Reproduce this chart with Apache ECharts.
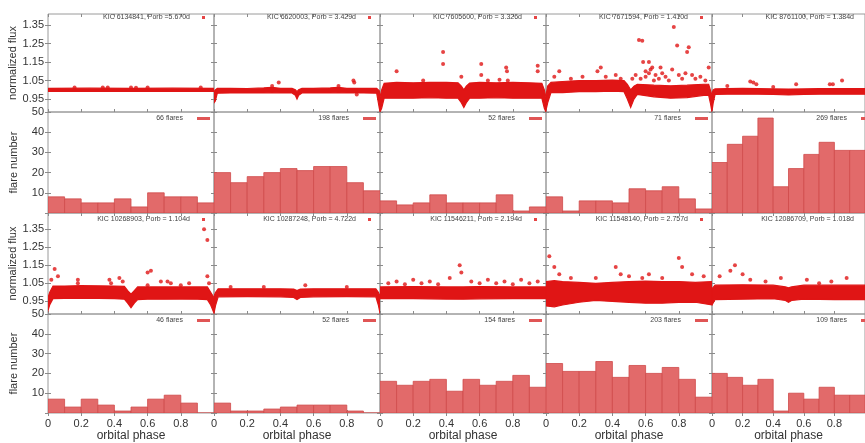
<!DOCTYPE html>
<html><head><meta charset="utf-8">
<script src="https://cdn.jsdelivr.net/npm/echarts@6/dist/echarts.min.js"></script>
<style>html,body{margin:0;padding:0;background:#fff}#c{width:865px;height:443px}</style>
</head><body><div id="c"></div>
<script>
// ---------------- data ----------------
const phaseTicks = [0, 0.2, 0.4, 0.6, 0.8];
const fluxTicks = [0.95, 1.05, 1.15, 1.25, 1.35];
const binStarts = [0, 0.1, 0.2, 0.3, 0.4, 0.5, 0.6, 0.7, 0.8, 0.9];
const binWidth = 0.1;

// top row light curves: [phase, lower edge, upper edge] of the dense band
const band6134841 = [[0,0.991,1.008],[0.25,0.992,1.009],[0.5,0.991,1.008],[0.75,0.992,1.009],[1,0.991,1.008]];
const flares6134841 = [[0.16,1.012],[0.33,1.013],[0.36,1.012],[0.5,1.013],[0.53,1.011],[0.6,1.012],[0.92,1.012]];
const band6620003 = [[0,0.93,0.99],[0.008,0.94,1.0],[0.02,0.982,1.008],[0.1,0.983,1.008],[0.2,0.983,1.007],[0.3,0.983,1.01],[0.35,0.985,1.013],[0.4,0.983,1.008],[0.47,0.983,1.008],[0.49,0.97,1.0],[0.5,0.95,0.99],[0.51,0.97,1.0],[0.53,0.983,1.008],[0.6,0.983,1.008],[0.7,0.983,1.01],[0.75,0.985,1.013],[0.8,0.983,1.008],[0.9,0.983,1.008],[0.98,0.982,1.008],[0.99,0.93,1.0],[1,0.88,0.99]];
const flares6620003 = [[0.39,1.04],[0.84,1.05],[0.845,1.04],[0.86,0.975],[0.35,1.02],[0.75,1.02]];
const band7605600 = [[0,0.88,0.96],[0.01,0.9,1.0],[0.025,0.955,1.035],[0.1,0.955,1.04],[0.2,0.955,1.038],[0.3,0.957,1.04],[0.4,0.955,1.04],[0.47,0.955,1.038],[0.49,0.93,1.02],[0.505,0.905,1.0],[0.52,0.93,1.02],[0.54,0.955,1.037],[0.6,0.955,1.04],[0.7,0.957,1.038],[0.8,0.955,1.04],[0.9,0.955,1.038],[0.975,0.955,1.035],[0.99,0.9,1.0],[1,0.88,0.96]];
const flares7605600 = [[0.10,1.10],[0.38,1.205],[0.38,1.14],[0.49,1.07],[0.61,1.14],[0.61,1.08],[0.65,1.05],[0.76,1.12],[0.765,1.10],[0.77,1.05],[0.95,1.13],[0.95,1.10],[0.26,1.05],[0.72,1.055]];
const band7671594 = [[0,0.89,0.97],[0.01,0.93,1.02],[0.03,0.985,1.04],[0.1,0.985,1.045],[0.2,0.99,1.05],[0.3,0.99,1.05],[0.4,0.993,1.052],[0.47,0.99,1.05],[0.49,0.95,1.03],[0.51,0.905,1.0],[0.53,0.95,1.02],[0.55,0.975,1.03],[0.65,0.962,1.025],[0.75,0.955,1.022],[0.85,0.958,1.025],[0.95,0.97,1.03],[0.98,0.97,1.03],[0.99,0.93,1.0],[1,0.88,0.97]];
const flares7671594 = [[0.08,1.10],[0.05,1.07],[0.15,1.06],[0.22,1.07],[0.31,1.10],[0.33,1.12],[0.36,1.07],[0.42,1.08],[0.45,1.06],[0.56,1.27],[0.58,1.265],[0.585,1.15],[0.6,1.10],[0.62,1.15],[0.63,1.11],[0.64,1.12],[0.66,1.08],[0.68,1.06],[0.7,1.09],[0.72,1.07],[0.76,1.11],[0.77,1.34],[0.79,1.24],[0.8,1.08],[0.82,1.06],[0.85,1.205],[0.86,1.23],[0.88,1.08],[0.9,1.06],[0.93,1.07],[0.96,1.05],[0.98,1.12],[0.52,1.06],[0.54,1.08],[0.57,1.06],[0.65,1.05],[0.74,1.05],[0.84,1.09],[0.6,1.07],[0.62,1.09],[0.69,1.12]];
const band8761100 = [[0,0.885,0.98],[0.008,0.93,1.0],[0.02,0.975,1.005],[0.1,0.976,1.006],[0.2,0.976,1.008],[0.3,0.976,1.006],[0.4,0.975,1.005],[0.5,0.972,1.004],[0.6,0.975,1.005],[0.7,0.976,1.006],[0.8,0.976,1.006],[0.9,0.976,1.006],[1,0.976,1.006]];
const flares8761100 = [[0.25,1.045],[0.27,1.04],[0.29,1.03],[0.55,1.03],[0.77,1.03],[0.79,1.03],[0.85,1.05],[0.1,1.02],[0.4,1.015]];

// third row light curves
const band10268903 = [[0,0.9,0.97],[0.01,0.93,1.0],[0.03,0.965,1.035],[0.1,0.967,1.035],[0.2,0.967,1.037],[0.3,0.967,1.036],[0.4,0.965,1.035],[0.46,0.962,1.033],[0.48,0.94,1.01],[0.5,0.915,0.99],[0.52,0.94,1.01],[0.54,0.96,1.03],[0.6,0.962,1.03],[0.7,0.962,1.03],[0.8,0.963,1.03],[0.9,0.962,1.03],[0.96,0.96,1.03],[0.98,0.93,1.0],[1,0.885,0.97]];
const flares10268903 = [[0.02,1.07],[0.04,1.13],[0.06,1.09],[0.18,1.07],[0.18,1.05],[0.37,1.07],[0.38,1.05],[0.43,1.08],[0.45,1.06],[0.6,1.11],[0.62,1.12],[0.6,1.04],[0.68,1.06],[0.72,1.06],[0.74,1.05],[0.8,1.04],[0.85,1.05],[0.94,1.35],[0.96,1.29],[0.96,1.09],[0.97,1.05]];
const band10287248 = [[0,0.885,0.98],[0.01,0.93,1.0],[0.025,0.975,1.02],[0.2,0.976,1.02],[0.4,0.975,1.02],[0.48,0.972,1.018],[0.5,0.96,1.01],[0.52,0.972,1.018],[0.6,0.975,1.02],[0.8,0.976,1.02],[0.975,0.975,1.02],[0.99,0.93,1.0],[1,0.885,0.98]];
const flares10287248 = [[0.1,1.03],[0.3,1.03],[0.55,1.04],[0.8,1.03]];
const band11546211 = [[0,0.965,1.03],[0.2,0.965,1.032],[0.4,0.963,1.03],[0.5,0.962,1.03],[0.6,0.964,1.032],[0.8,0.965,1.03],[1,0.965,1.03]];
const flares11546211 = [[0.05,1.05],[0.1,1.06],[0.15,1.045],[0.2,1.07],[0.25,1.05],[0.3,1.06],[0.35,1.045],[0.42,1.08],[0.48,1.15],[0.49,1.11],[0.55,1.06],[0.6,1.05],[0.65,1.07],[0.7,1.05],[0.75,1.06],[0.8,1.045],[0.85,1.07],[0.9,1.05],[0.95,1.06]];
const band11548140 = [[0,0.925,1.06],[0.05,0.92,1.065],[0.1,0.93,1.06],[0.2,0.945,1.055],[0.3,0.955,1.05],[0.4,0.95,1.055],[0.5,0.945,1.06],[0.6,0.94,1.062],[0.7,0.94,1.06],[0.8,0.945,1.06],[0.9,0.945,1.055],[1,0.93,1.06]];
const flares11548140 = [[0.02,1.2],[0.05,1.14],[0.08,1.1],[0.15,1.08],[0.3,1.08],[0.42,1.14],[0.45,1.1],[0.5,1.09],[0.58,1.08],[0.62,1.1],[0.7,1.08],[0.8,1.19],[0.82,1.14],[0.88,1.1],[0.95,1.09]];
const band12086709 = [[0,0.93,1.02],[0.02,0.96,1.04],[0.2,0.962,1.042],[0.4,0.965,1.04],[0.48,0.955,1.03],[0.5,0.945,1.025],[0.52,0.955,1.03],[0.6,0.962,1.04],[0.8,0.96,1.04],[1,0.96,1.04]];
const flares12086709 = [[0.05,1.09],[0.12,1.12],[0.15,1.15],[0.2,1.1],[0.25,1.07],[0.35,1.06],[0.45,1.08],[0.62,1.07],[0.7,1.05],[0.78,1.06],[0.88,1.08]];

// flare histograms (flares per 0.1 phase bin)
const hist6134841 = [8,7,5,5,7,3,10,8,8,5];
const hist6620003 = [20,15,18,20,22,21,23,23,15,11];
const hist7605600 = [6,4,5,9,5,5,5,9,1,3];
const hist7671594 = [8,1,6,6,5,12,11,13,7,2];
const hist8761100 = [25,34,38,47,13,22,29,35,31,31];
const hist10268903 = [7,3,7,4,1,3,7,9,5,0];
const hist10287248 = [5,1,1,2,3,4,4,4,1,0];
const hist11546211 = [16,14,16,17,11,17,14,16,19,13];
const hist11548140 = [25,21,21,26,18,24,20,23,17,8];
const hist12086709 = [20,18,14,17,1,10,7,13,9,9];

const fluxLabels1 = ['KIC 6134841, Porb =5.670d','KIC 6620003, Porb = 3.429d','KIC 7605600, Porb = 3.326d','KIC 7671594, Porb = 1.410d','KIC 8761100, Porb = 1.384d'];
const fluxLabels3 = ['KIC 10268903, Porb = 1.104d','KIC 10287248, Porb = 4.722d','KIC 11546211, Porb = 2.194d','KIC 11548140, Porb = 2.757d','KIC 12086709, Porb = 1.018d'];
const histLabels2 = ['66 flares','198 flares','52 flares','71 flares','269 flares'];
const histLabels4 = ['46 flares','52 flares','154 flares','203 flares','109 flares'];

// ---------------- layout / build ----------------
const FONT = 'Liberation Sans, Arial, sans-serif';
const RED = '#e01515';
const BAR = '#e26a6a';
const BAR_EDGE = '#cf4a4a';
const W = 166;
const colLeft = [48, 214, 380, 546, 712];
const rows = [
  {top: 14, height: 98, kind: 'flux', ymin: 0.88, ymax: 1.41, labels: fluxLabels1,
   bands: [band6134841, band6620003, band7605600, band7671594, band8761100],
   flares: [flares6134841, flares6620003, flares7605600, flares7671594, flares8761100]},
  {top: 112, height: 101, kind: 'hist', labels: histLabels2,
   hists: [hist6134841, hist6620003, hist7605600, hist7671594, hist8761100]},
  {top: 213, height: 101, kind: 'flux', ymin: 0.88, ymax: 1.44, labels: fluxLabels3,
   bands: [band10268903, band10287248, band11546211, band11548140, band12086709],
   flares: [flares10268903, flares10287248, flares11546211, flares11548140, flares12086709]},
  {top: 314, height: 101, kind: 'hist', labels: histLabels4,
   hists: [hist10268903, hist10287248, hist11546211, hist11548140, hist12086709]}
];

const grid = [], xAxis = [], yAxis = [], series = [], legend = [];
const tick = {inside: true, length: 3, lineStyle: {color: '#8a8a8a', width: 1}};

function bandRenderer(band) {
  return function (params, api) {
    const up = band.map(d => api.coord([d[0], d[2]]));
    const lo = band.slice().reverse().map(d => api.coord([d[0], d[1]]));
    return {type: 'polygon', shape: {points: up.concat(lo)},
            style: {fill: RED, stroke: RED, lineWidth: 1.2}};
  };
}
function histRenderer(params, api) {
  const x0 = api.value(0), v = api.value(1);
  const p0 = api.coord([x0, v]);
  const p1 = api.coord([x0 + binWidth, 0]);
  return {type: 'rect', shape: {x: p0[0], y: p0[1], width: p1[0] - p0[0], height: p1[1] - p0[1]},
          style: {fill: BAR, stroke: BAR_EDGE, lineWidth: 0.8}};
}

rows.forEach((row, r) => {
  for (let c = 0; c < 5; c++) {
    const gi = r * 5 + c;
    grid.push({left: colLeft[c], top: row.top, width: W, height: row.height,
      show: true, borderColor: '#9a9a9a', borderWidth: 1, backgroundColor: 'transparent'});
    const xBase = {type: 'value', gridIndex: gi, min: 0, max: 1, interval: 0.2,
      axisLine: {show: false}, splitLine: {show: false}, axisTick: tick};
    xAxis.push(Object.assign({}, xBase, {position: 'bottom',
      axisLabel: {show: r === 3, showMaxLabel: false, fontSize: 11, color: '#333', margin: 5, fontFamily: FONT},
      name: r === 3 ? 'orbital phase' : '', nameLocation: 'middle', nameGap: 17,
      nameTextStyle: {fontSize: 12, color: '#333', fontFamily: FONT}}));
    xAxis.push(Object.assign({}, xBase, {position: 'top', axisLabel: {show: false}}));

    let yBase;
    if (row.kind === 'flux') {
      yBase = {type: 'value', gridIndex: gi, min: row.ymin, max: row.ymax,
        axisLine: {show: false}, splitLine: {show: false},
        axisTick: Object.assign({}, tick, {customValues: fluxTicks})};
      yAxis.push(Object.assign({}, yBase, {position: 'left',
        axisLabel: {show: c === 0, customValues: fluxTicks, fontSize: 11, color: '#333', margin: 4, fontFamily: FONT},
        name: c === 0 ? 'normalized flux' : '', nameLocation: 'middle', nameGap: 29,
        nameTextStyle: {fontSize: 11, color: '#333', fontFamily: FONT}}));
    } else {
      yBase = {type: 'value', gridIndex: gi, min: 0, max: 50, interval: 10,
        axisLine: {show: false}, splitLine: {show: false}, axisTick: tick};
      yAxis.push(Object.assign({}, yBase, {position: 'left',
        axisLabel: {show: c === 0, showMinLabel: false, fontSize: 11, color: '#333', margin: 4, fontFamily: FONT},
        name: c === 0 ? 'flare number' : '', nameLocation: 'middle', nameGap: 29,
        nameTextStyle: {fontSize: 11, color: '#333', fontFamily: FONT}}));
    }
    yAxis.push(Object.assign({}, yBase, {position: 'right', axisLabel: {show: false}}));

    const panelRight = colLeft[c] + W;
    if (row.kind === 'flux') {
      series.push({type: 'custom', xAxisIndex: 2 * gi, yAxisIndex: 2 * gi, clip: true, silent: true,
        data: [[0.5, 1]], renderItem: bandRenderer(row.bands[c]), z: 2});
      series.push({type: 'scatter', name: row.labels[c], xAxisIndex: 2 * gi, yAxisIndex: 2 * gi,
        data: row.flares[c], symbolSize: 4, clip: true, silent: true, z: 3,
        itemStyle: {color: RED}});
      legend.push({top: row.top + (r === 0 ? 0 : 3), right: 865 - (panelRight - 9), orient: 'horizontal', align: 'right',
        padding: 0, itemWidth: 3, itemHeight: 3, selectedMode: false,
        itemStyle: {borderWidth: 0},
        textStyle: {fontSize: 7, color: '#444', fontFamily: FONT, padding: [0, 7, 0, 0]},
        data: [{name: row.labels[c], icon: 'rect', itemStyle: {color: RED, borderWidth: 0}}]});
    } else {
      series.push({type: 'custom', name: row.labels[c], xAxisIndex: 2 * gi, yAxisIndex: 2 * gi, clip: true, silent: true,
        itemStyle: {color: BAR},
        data: binStarts.map((b, i) => [b, row.hists[c][i]]), renderItem: histRenderer, z: 2});
      legend.push({top: row.top + 3, right: 865 - (panelRight - 4), orient: 'horizontal', align: 'right',
        padding: 0, itemWidth: 13, itemHeight: 3, selectedMode: false,
        textStyle: {fontSize: 7, color: '#444', fontFamily: FONT, padding: [0, 9, 0, 0]},
        data: [{name: row.labels[c], icon: 'rect', itemStyle: {color: '#e05555'}}]});
    }
  }
});

const chart = echarts.init(document.getElementById('c'), null, {renderer: 'canvas'});
chart.setOption({animation: false, backgroundColor: '#fff', grid, xAxis, yAxis, series, legend});
</script></body></html>
